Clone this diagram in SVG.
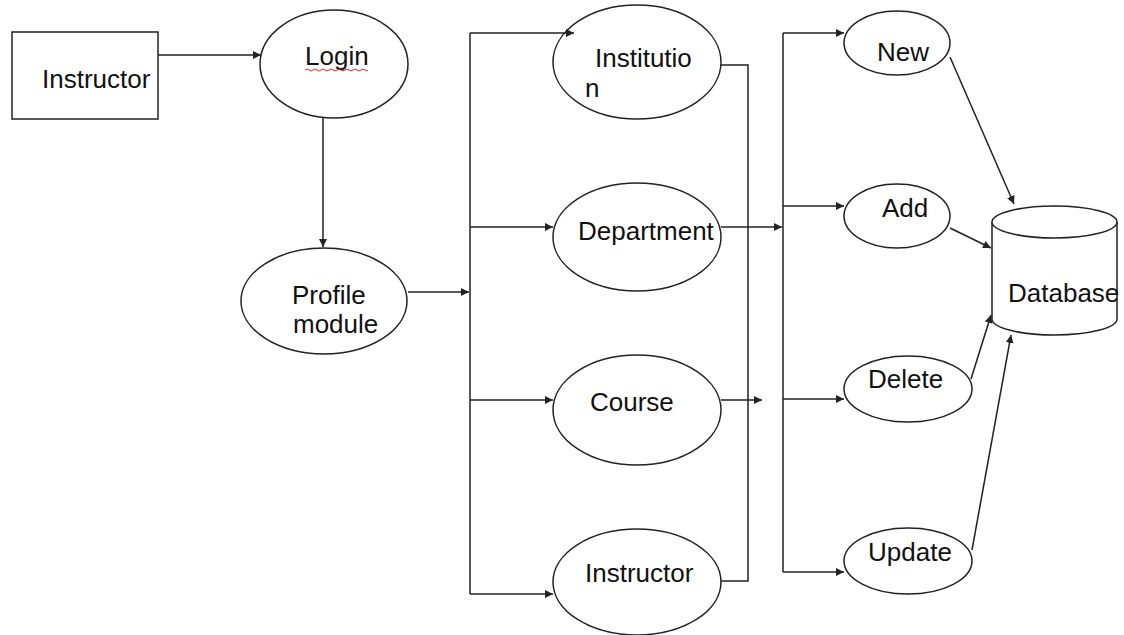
<svg xmlns="http://www.w3.org/2000/svg" width="1124" height="635" viewBox="0 0 1124 635">
  <style>
    .shape { fill: #ffffff; stroke: #222222; stroke-width: 1.5; }
    .link { fill: none; stroke: #222222; stroke-width: 1.5; }
    .label { font-family: "Liberation Sans", Arial, sans-serif; font-size: 26px; fill: #111111; }
  </style>
  <defs>
    <marker id="arrow" viewBox="0 0 10 10" refX="10" refY="5" markerWidth="8" markerHeight="8" markerUnits="userSpaceOnUse" orient="auto">
      <path d="M0,0 L10,5 L0,10 Z" fill="#222222"/>
    </marker>
  </defs>
  <rect width="1124" height="635" fill="#ffffff"/>

  <g id="instructor-entity">
    <rect class="shape" x="12" y="32" width="146" height="87"/>
    <text class="label" x="42" y="88">Instructor</text>
  </g>

  <g id="login">
    <ellipse class="shape" cx="334" cy="64" rx="74" ry="54"/>
    <text class="label" x="305" y="65">Login</text>
    <path d="M305,70 q2,-2 4,0 t4,0 t4,0 t4,0 t4,0 t4,0 t4,0 t4,0 t4,0 t4,0 t4,0 t4,0 t4,0 t4,0 t4,0 t3,0" fill="none" stroke="#e02020" stroke-width="1"/>
  </g>

  <g id="profile-module">
    <ellipse class="shape" cx="324" cy="301" rx="83" ry="53"/>
    <text class="label" x="292" y="304">Profile</text>
    <text class="label" x="293" y="333">module</text>
  </g>

  <g id="institution">
    <ellipse class="shape" cx="637" cy="62" rx="84" ry="57"/>
    <text class="label" x="595" y="67">Institutio</text>
    <text class="label" x="585" y="97">n</text>
  </g>

  <g id="department">
    <ellipse class="shape" cx="637" cy="237" rx="84" ry="54"/>
    <text class="label" x="578" y="240">Department</text>
  </g>

  <g id="course">
    <ellipse class="shape" cx="637" cy="410" rx="84" ry="55"/>
    <text class="label" x="590" y="411">Course</text>
  </g>

  <g id="instructor">
    <ellipse class="shape" cx="637" cy="582" rx="84" ry="53"/>
    <text class="label" x="585" y="582">Instructor</text>
  </g>

  <g id="new">
    <ellipse class="shape" cx="897" cy="43" rx="53" ry="32"/>
    <text class="label" x="877" y="61">New</text>
  </g>

  <g id="add">
    <ellipse class="shape" cx="897" cy="216" rx="53" ry="32"/>
    <text class="label" x="882" y="217">Add</text>
  </g>

  <g id="delete">
    <ellipse class="shape" cx="908" cy="389" rx="64" ry="33"/>
    <text class="label" x="868" y="388">Delete</text>
  </g>

  <g id="update">
    <ellipse class="shape" cx="908" cy="561" rx="64" ry="33"/>
    <text class="label" x="868" y="561">Update</text>
  </g>

  <g id="database">
    <path class="shape" d="M992,222 L992,319 A62.5,16 0 0 0 1117,319 L1117,222"/>
    <ellipse class="shape" cx="1054.5" cy="222" rx="62.5" ry="16"/>
    <text class="label" x="1008" y="302">Database</text>
  </g>

  <!-- connectors, drawn last so arrowheads sit on top of the shapes -->
  <g id="connectors">
    <line class="link" x1="158" y1="55" x2="261" y2="55" marker-end="url(#arrow)"/>
    <line class="link" x1="323" y1="118" x2="323" y2="247" marker-end="url(#arrow)"/>
    <line class="link" x1="408" y1="292" x2="469" y2="292" marker-end="url(#arrow)"/>
    <!-- left distribution bus -->
    <polyline class="link" points="470,33 470,594"/>
    <line class="link" x1="470" y1="33" x2="574" y2="33" marker-end="url(#arrow)"/>
    <line class="link" x1="470" y1="227" x2="553" y2="227" marker-end="url(#arrow)"/>
    <line class="link" x1="470" y1="400" x2="553" y2="400" marker-end="url(#arrow)"/>
    <line class="link" x1="470" y1="594" x2="553" y2="594" marker-end="url(#arrow)"/>
    <!-- right-hand return bracket -->
    <polyline class="link" points="721,65 748,65 748,581 721,581"/>
    <line class="link" x1="721" y1="227" x2="782" y2="227" marker-end="url(#arrow)"/>
    <line class="link" x1="721" y1="400" x2="762" y2="400" marker-end="url(#arrow)"/>
    <!-- right distribution bus -->
    <polyline class="link" points="783,33 783,572"/>
    <line class="link" x1="783" y1="33" x2="844" y2="33" marker-end="url(#arrow)"/>
    <line class="link" x1="783" y1="206" x2="844" y2="206" marker-end="url(#arrow)"/>
    <line class="link" x1="783" y1="399" x2="844" y2="399" marker-end="url(#arrow)"/>
    <line class="link" x1="783" y1="572" x2="844" y2="572" marker-end="url(#arrow)"/>
    <!-- operations into database -->
    <line class="link" x1="950" y1="57" x2="1014" y2="204" marker-end="url(#arrow)"/>
    <line class="link" x1="950" y1="228" x2="991" y2="248" marker-end="url(#arrow)"/>
    <line class="link" x1="971" y1="379" x2="991" y2="315" marker-end="url(#arrow)"/>
    <line class="link" x1="972" y1="550" x2="1011" y2="335" marker-end="url(#arrow)"/>
  </g>
</svg>
